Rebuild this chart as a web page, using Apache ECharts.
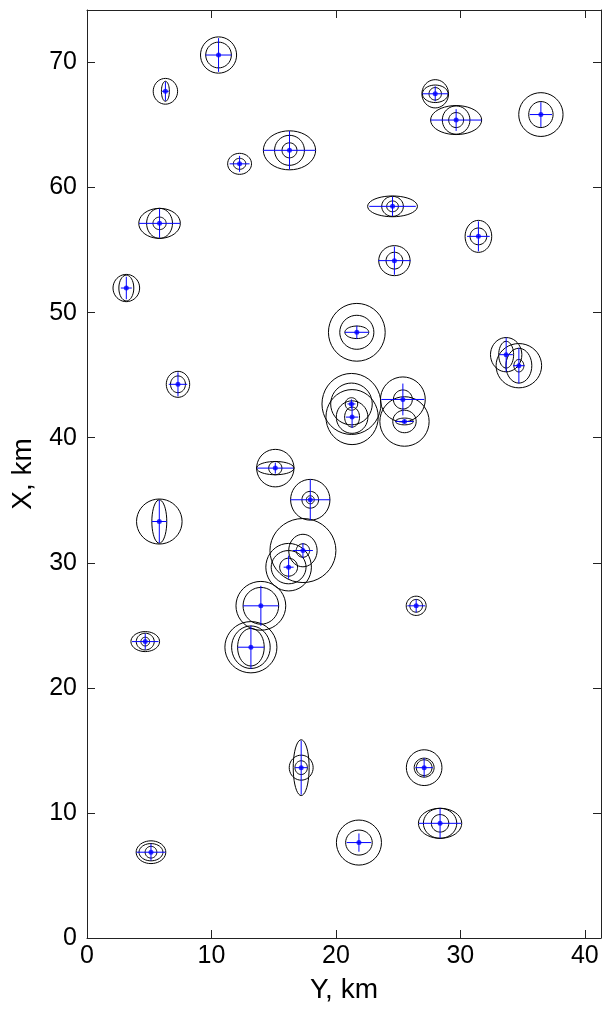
<!DOCTYPE html>
<html>
<head>
<meta charset="utf-8">
<script src="https://cdn.jsdelivr.net/npm/echarts@6/dist/echarts.min.js"></script>
<style>
  html, body { margin: 0; padding: 0; background: #fff; }
  #main { width: 606px; height: 1012px; }
</style>
</head>
<body>
<div id="main"></div>
<script>
// point centres (horizontal = Y km, vertical = X km)
var ptY = [6.3, 10.57, 12.26, 16.27, 27.98, 29.66, 36.47, 24.55, 31.45, 5.83, 24.7, 3.16,
  21.68, 7.31, 33.68, 34.7, 21.25, 21.3, 25.38, 25.51, 15.13, 17.94, 5.81, 17.35, 16.2,
  26.45, 13.97, 13.17, 4.68, 17.21, 27.09, 28.37, 21.85, 5.14];
var ptX = [67.7, 70.6, 61.9, 62.98, 67.5, 65.4, 65.84, 58.5, 56.1, 57.14, 54.16, 51.97,
  48.43, 44.27, 46.64, 45.76, 42.7, 41.65, 43.06, 41.3, 37.57, 35.04, 33.3, 30.98, 29.65,
  26.56, 26.56, 23.25, 23.7, 13.62, 13.62, 9.17, 7.63, 6.86];
// half lengths of the blue cross
var barY = [0.27, 1.05, 0.8, 2.1, 1.03, 2.05, 0.9, 1.87, 0.91, 1.65, 1.3, 0.44,
  0.96, 0.74, 0.54, 0.47, 0.32, 0.5, 1.73, 0.72, 1.45, 1.6, 0.6, 0.8, 0.4,
  0.71, 1.43, 1.07, 1.07, 0.5, 0.7, 1.7, 0.99, 1.16];
var barX = [0.76, 1.35, 0.64, 1.54, 0.6, 0.87, 0.99, 0.77, 1.2, 1.16, 1.13, 0.9,
  0.53, 0.96, 1.37, 1.43, 0.36, 0.87, 1.27, 0.15, 0.44, 1.63, 1.71, 0.6, 0.93,
  0.53, 1.6, 1.73, 0.64, 2.16, 0.76, 1.2, 0.73, 0.67];
// ellipse semi axes (0 = none)
var e1a = [0.98, 1.45, 0.96, 2.1, 1.07, 2.05, 1.78, 2.0, 1.07, 1.67, 1.26, 1.07,
  2.28, 0.94, 1.26, 1.83, 2.37, 2.1, 1.8, 1.98, 1.5, 1.58, 1.83, 2.65, 1.83,
  0.8, 2.0, 2.09, 1.15, 0.64, 1.43, 1.74, 1.81, 1.19];
var e1b = [1.03, 1.45, 0.84, 1.56, 1.13, 1.16, 1.75, 0.83, 1.28, 1.2, 1.2, 1.09,
  2.31, 1.04, 1.37, 1.77, 2.44, 2.2, 1.8, 1.98, 1.5, 1.63, 1.8, 2.56, 1.9,
  0.77, 1.95, 2.05, 0.8, 2.23, 1.43, 1.2, 1.8, 0.91];
var e2a = [0.32, 1.03, 0.5, 1.2, 1.03, 1.11, 0.98, 0.87, 0.67, 1.04, 0.67, 0.6,
  1.37, 0.6, 0.6, 1.04, 1.67, 1.27, 0.76, 0.94, 1.5, 0.67, 0.6, 1.14, 1.4,
  0.51, 1.43, 1.55, 0.72, 0.96, 0.8, 1.34, 1.07, 0.96];
var e2b = [0.8, 1.03, 0.44, 1.2, 0.7, 1.13, 1.04, 0.8, 0.67, 1.2, 0.67, 1.03,
  1.36, 0.67, 1.07, 1.39, 1.67, 1.3, 0.76, 0.9, 0.53, 0.67, 1.73, 1.3, 1.33,
  0.51, 1.47, 1.7, 0.67, 1.0, 0.76, 1.2, 1.0, 0.69];
var e3a = [0, 0, 0, 0.6, 0.5, 0.6, 0, 0.47, 0, 0.53, 0, 0,
  0.96, 0, 0, 0.4, 0.5, 0.6, 0, 0.72, 0.53, 0.32, 0, 0.54, 0.72,
  0, 0, 1.07, 0.35, 0.5, 0.63, 0.7, 0, 0.47];
var e3b = [0, 0, 0, 0.6, 0.5, 0.6, 0, 0.43, 0, 0.5, 0, 0,
  0.5, 0, 0, 0.5, 0.5, 0.8, 0, 0.27, 0.53, 0.32, 0, 0.54, 0.72,
  0, 0, 1.5, 0.35, 0.55, 0.63, 0.7, 0, 0.47];

var xTicks = [0, 10, 20, 30, 40];
var yTicks = [0, 10, 20, 30, 40, 50, 60, 70];

var ellData = [];
var crossData = [];
var dotData = [];
for (var i = 0; i < ptY.length; i++) {
  [[e1a, e1b], [e2a, e2b], [e3a, e3b]].forEach(function (e) {
    if (e[0][i] > 0) ellData.push([ptY[i], ptX[i], e[0][i], e[1][i]]);
  });
  crossData.push([ptY[i], ptX[i], barY[i], barX[i]]);
  dotData.push([ptY[i], ptX[i]]);
}

function renderEllipse(params, api) {
  var c = api.coord([api.value(0), api.value(1)]);
  var s = api.size([api.value(2), api.value(3)]);
  var pts = [];
  for (var k = 0; k < 40; k++) {
    var t = k / 40 * Math.PI * 2;
    pts.push([c[0] + s[0] * Math.cos(t), c[1] + s[1] * Math.sin(t)]);
  }
  return {
    type: 'polygon',
    shape: { points: pts },
    style: { fill: 'none', stroke: '#000', lineWidth: 1 }
  };
}

function renderCross(params, api) {
  var c = api.coord([api.value(0), api.value(1)]);
  var s = api.size([api.value(2), api.value(3)]);
  var st = { stroke: '#0000ff', lineWidth: 1 };
  return {
    type: 'group',
    children: [
      { type: 'line', shape: { x1: c[0] - s[0], y1: c[1], x2: c[0] + s[0], y2: c[1] }, style: st },
      { type: 'line', shape: { x1: c[0], y1: c[1] - s[1], x2: c[0], y2: c[1] + s[1] }, style: st }
    ]
  };
}

var font = 'Liberation Sans, Arial, sans-serif';
var lineStyle = { color: '#222', width: 1 };

function axisBase(extra) {
  var a = {
    type: 'value',
    axisLine: { show: true, onZero: false, lineStyle: lineStyle },
    axisTick: { show: true, inside: true, length: 8, lineStyle: lineStyle },
    splitLine: { show: false },
    axisLabel: { show: false }
  };
  for (var k in extra) a[k] = extra[k];
  return a;
}

var chart = echarts.init(document.getElementById('main'));
chart.setOption({
  animation: false,
  backgroundColor: '#fff',
  grid: { left: 87, right: 5, top: 10, bottom: 74, containLabel: false },
  xAxis: [
    axisBase({
      position: 'bottom', min: 0, max: 41.3, interval: 10,
      name: 'Y, km', nameLocation: 'middle', nameGap: 38,
      nameTextStyle: { fontFamily: font, fontSize: 28, color: '#000' },
      axisLabel: {
        show: true, margin: 6, fontFamily: font, fontSize: 25, color: '#000',
        showMaxLabel: false,
        formatter: function (v) { return xTicks.indexOf(v) >= 0 ? String(v) : ''; }
      }
    }),
    axisBase({ position: 'top', min: 0, max: 41.3, interval: 10 })
  ],
  yAxis: [
    axisBase({
      position: 'left', min: 0, max: 74.2, interval: 10,
      name: 'X, km', nameLocation: 'middle', nameGap: 50, nameRotate: 90,
      nameTextStyle: { fontFamily: font, fontSize: 28, color: '#000' },
      axisLabel: {
        show: true, margin: 10, fontFamily: font, fontSize: 25, color: '#000',
        showMaxLabel: false,
        formatter: function (v) { return yTicks.indexOf(v) >= 0 ? String(v) : ''; }
      }
    }),
    axisBase({ position: 'right', min: 0, max: 74.2, interval: 10 })
  ],
  series: [
    {
      type: 'custom', renderItem: renderEllipse, data: ellData,
      encode: { x: 0, y: 1 }, silent: true
    },
    {
      type: 'custom', renderItem: renderCross, data: crossData,
      encode: { x: 0, y: 1 }, silent: true
    },
    {
      type: 'scatter', data: dotData, symbolSize: 5,
      itemStyle: { color: '#0000ff' }, silent: true
    }
  ]
});
</script>
</body>
</html>
